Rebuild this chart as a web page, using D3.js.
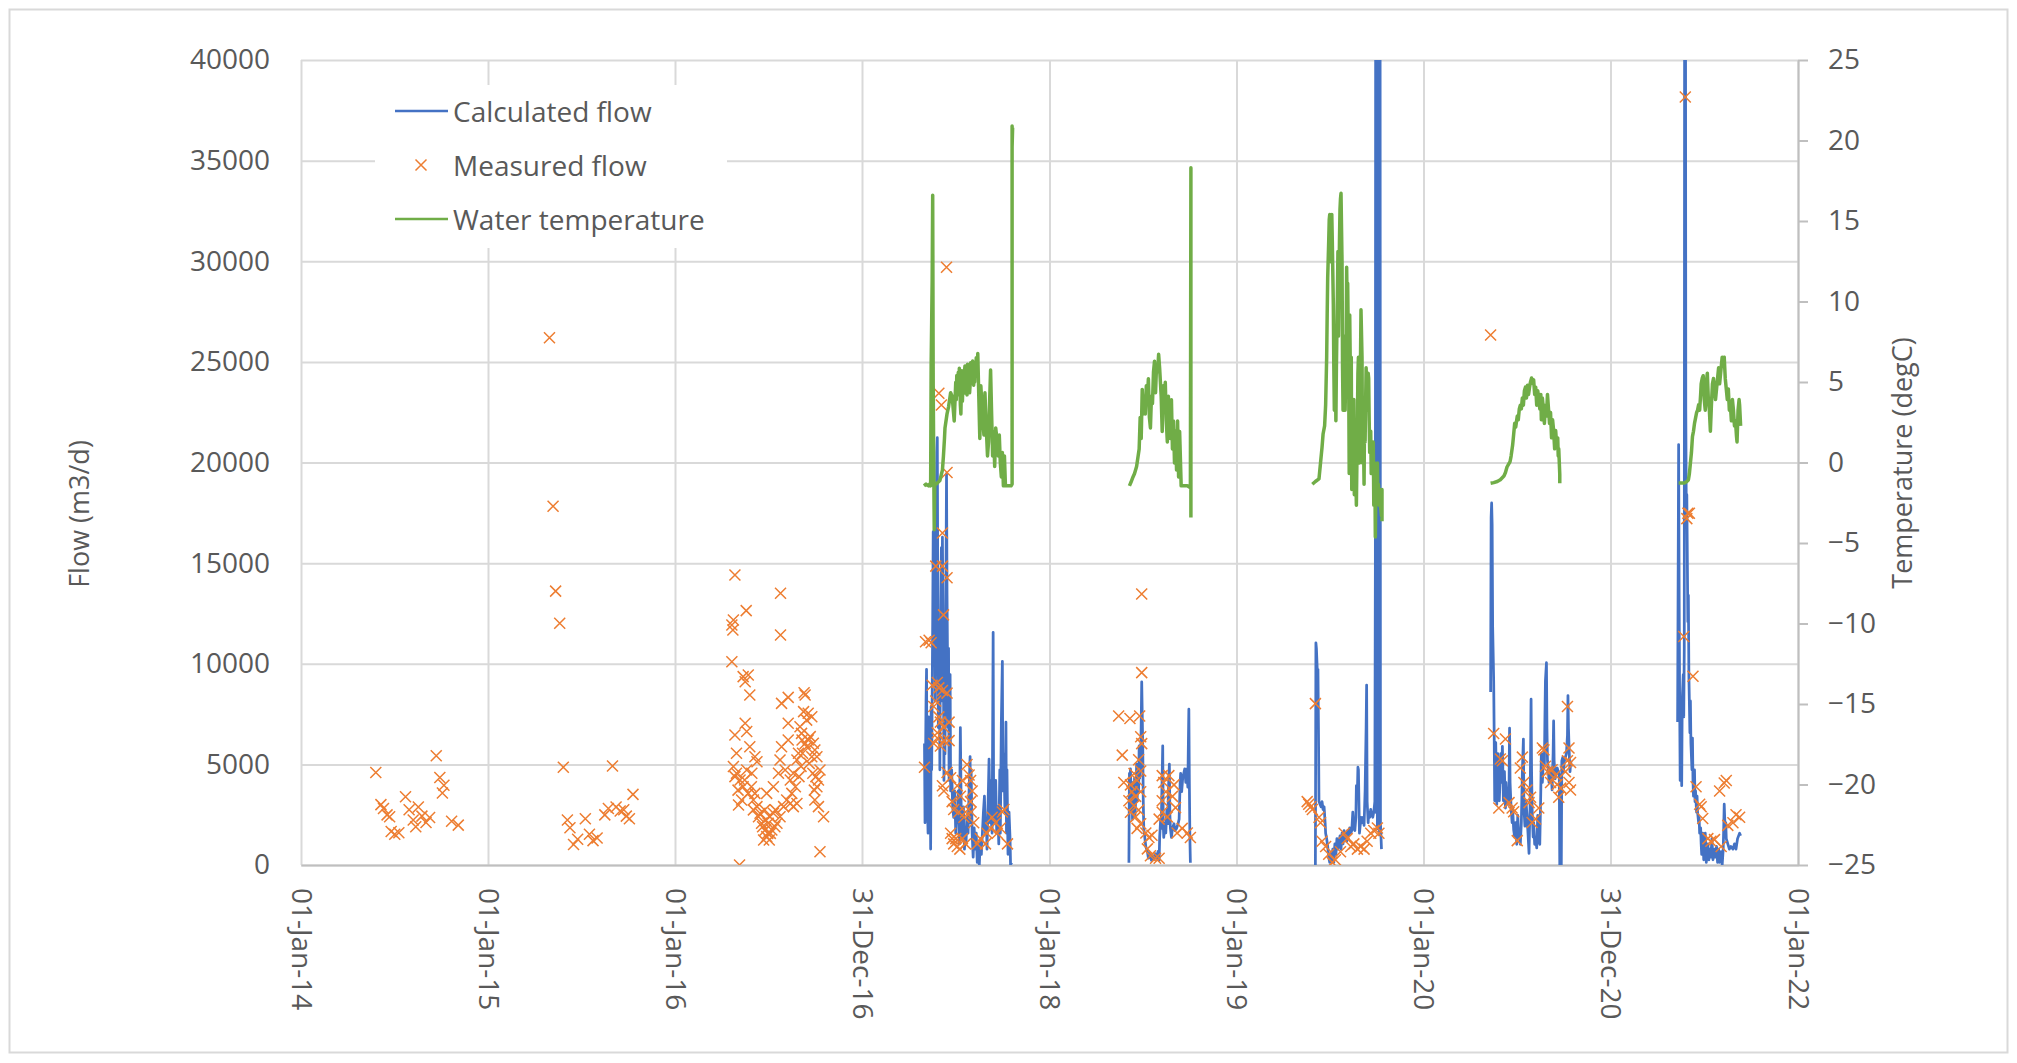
<!DOCTYPE html>
<html><head><meta charset="utf-8">
<script src="https://cdn.jsdelivr.net/npm/d3@7"></script>
<style>
html,body{margin:0;padding:0;background:#fff;}
svg{display:block;font-family:"Open Sans",sans-serif;}
</style></head><body>
<svg id="chart" width="2017" height="1063"></svg>
<script>
// ---------- axis definitions ----------
const xTickDates = ["2014-01-01","2015-01-01","2016-01-01","2016-12-31","2018-01-01","2019-01-01","2020-01-01","2020-12-31","2022-01-01"];
const xTickLabels = ["01-Jan-14","01-Jan-15","01-Jan-16","31-Dec-16","01-Jan-18","01-Jan-19","01-Jan-20","31-Dec-20","01-Jan-22"];
const flowTicks = [0,5000,10000,15000,20000,25000,30000,35000,40000];
const tempTicks = [-25,-20,-15,-10,-5,0,5,10,15,20,25];
const seriesNames = ["Calculated flow","Measured flow","Water temperature"];
const flowTitle = "Flow (m3/d)";
const tempTitle = "Temperature (degC)";

// ---------- data: [date "YYYY-dayOfYear", value] ----------
const measuredFlow2014 = [["2014-147",4600],["2014-157",3000],["2014-162",2810],["2014-169",2490],["2014-174",2400],["2014-177",1660],["2014-184",1530],["2014-192",1600],["2014-205",3390],["2014-212",2750],["2014-220",2240],["2014-225",1900],["2014-230",2880],["2014-237",2430],["2014-245",2110],["2014-252",2360],["2014-265",5430],["2014-272",4350],["2014-277",3580],["2014-280",3960],["2014-295",2170],["2014-308",1980]];
const measuredFlow2015 = [["2015-121",26200],["2015-128",17830],["2015-133",13610],["2015-141",12010],["2015-148",4860],["2015-156",2240],["2015-161",1850],["2015-168",1020],["2015-176",1280],["2015-191",2300],["2015-199",1530],["2015-206",1210],["2015-214",1340],["2015-229",2490],["2015-236",2810],["2015-244",4920],["2015-251",2880],["2015-259",2680],["2015-266",2750],["2015-271",2430],["2015-277",2300],["2015-284",3510]];
const measuredFlow2016 = [["2016-118",14410],["2016-207",13500],["2016-140",12640],["2016-115",12170],["2016-112",11930],["2016-114",11680],["2016-207",11430],["2016-112",10100],["2016-144",9440],["2016-138",9110],["2016-134",9360],["2016-147",8450],["2016-222",8330],["2016-209",8030],["2016-253",8560],["2016-255",8450],["2016-252",7620],["2016-261",7540],["2016-258",7200],["2016-268",7370],["2016-138",7040],["2016-141",6630],["2016-118",6460],["2016-222",7040],["2016-248",6540],["2016-265",6380],["2016-271",6050],["2016-274",5710],["2016-121",5550],["2016-147",5880],["2016-157",5380],["2016-161",5130],["2016-209",5880],["2016-222",6210],["2016-206",5220],["2016-242",5550],["2016-239",5220],["2016-278",5380],["2016-284",4720],["2016-281",4220],["2016-278",3890],["2016-115",4890],["2016-121",4560],["2016-128",4220],["2016-134",3890],["2016-125",2980],["2016-144",3560],["2016-154",3230],["2016-161",2900],["2016-167",2570],["2016-170",2070],["2016-177",1740],["2016-180",1410],["2016-174",1240],["2016-190",1740],["2016-200",2070],["2016-206",2400],["2016-213",2900],["2016-219",3230],["2016-226",3060],["2016-232",2900],["2016-239",3060],["2016-226",4220],["2016-232",4560],["2016-274",3230],["2016-281",2900],["2016-291",2400],["2016-284",660],["2016-127",0],["2016-187",1570],["2016-196",1900],["2016-164",2400],["2016-157",3560],["2016-151",4560],["2016-141",4720],["2016-180",3560],["2016-193",3890],["2016-203",4560],["2016-216",4720],["2016-258",5880],["2016-268",5380],["2016-245",6870],["2016-261",6210],["2016-172",1900],["2016-178",2240],["2016-183",2070],["2016-186",2400],["2016-176",2740],["2016-193",2570],["2016-197",2740],["2016-185",1240],["2016-182",1570],["2016-118",4390],["2016-124",3720],["2016-131",3230],["2016-137",4220],["2016-150",3890],["2016-154",2740],["2016-229",3560],["2016-236",3890],["2016-243",4390],["2016-247",4900],["2016-250",5550],["2016-255",6040],["2016-249",6210],["2016-263",5050],["2016-270",4560],["2016-276",4390],["2016-273",3720]];
const measuredFlow2017 = [["2017-165",29700],["2017-150",23440],["2017-155",22860],["2017-166",19500],["2017-157",16500],["2017-144",14850],["2017-157",14850],["2017-166",14270],["2017-159",12430],["2017-124",11090],["2017-131",11170],["2017-135",11040],["2017-137",8935],["2017-147",9070],["2017-150",8800],["2017-157",8670],["2017-144",8150],["2017-166",8540],["2017-140",7880],["2017-150",7360],["2017-153",7100],["2017-160",6830],["2017-170",7100],["2017-147",6570],["2017-140",6040],["2017-147",6310],["2017-153",5910],["2017-160",6180],["2017-170",6180],["2017-122",4860],["2017-166",4600],["2017-173",4340],["2017-157",3940],["2017-160",3680],["2017-176",3150],["2017-179",2760],["2017-186",3940],["2017-192",3420],["2017-189",2630],["2017-196",4200],["2017-199",2370],["2017-202",2630],["2017-205",4990],["2017-209",4470],["2017-212",4200],["2017-215",3680],["2017-212",3150],["2017-213",2630],["2017-218",2100],["2017-173",1580],["2017-176",1310],["2017-179",1050],["2017-183",1310],["2017-186",920],["2017-191",790],["2017-196",1310],["2017-202",1050],["2017-225",1050],["2017-231",1310],["2017-241",1050],["2017-244",1580],["2017-251",1840],["2017-254",2370],["2017-261",2100],["2017-264",1580],["2017-270",1840],["2017-274",2630],["2017-277",2760],["2017-284",1050]];
const measuredFlow2018 = [["2018-181",13470],["2018-181",9560],["2018-136",7400],["2018-158",7280],["2018-177",7400],["2018-179",6370],["2018-181",6030],["2018-143",5460],["2018-175",5230],["2018-166",4550],["2018-179",4670],["2018-146",4100],["2018-159",3980],["2018-172",4210],["2018-162",3640],["2018-169",3410],["2018-179",3640],["2018-156",3190],["2018-166",2960],["2018-175",2730],["2018-159",2620],["2018-169",2390],["2018-179",2050],["2018-172",1820],["2018-189",1590],["2018-195",1370],["2018-201",1480],["2018-192",800],["2018-198",455],["2018-208",340],["2018-215",340],["2018-221",4440],["2018-234",4440],["2018-224",4100],["2018-244",3980],["2018-241",3410],["2018-247",2850],["2018-228",3640],["2018-221",2620],["2018-231",2390],["2018-221",3190],["2018-250",1590],["2018-260",1820],["2018-270",1590],["2018-276",1370],["2018-215",2280]];
const measuredFlow2019 = [["2019-155",8020],["2019-139",3150],["2019-142",3020],["2019-146",2890],["2019-149",2760],["2019-162",2370],["2019-165",2100],["2019-168",1180],["2019-175",920],["2019-181",530],["2019-188",130],["2019-194",260],["2019-204",660],["2019-211",1580],["2019-217",1310],["2019-224",920],["2019-230",1050],["2019-237",790],["2019-243",920],["2019-250",790],["2019-256",1180],["2019-263",1580],["2019-269",1710],["2019-276",1840],["2019-279",1580]];
const measuredFlow2020 = [["2020-132",26340],["2020-138",6530],["2020-161",6260],["2020-151",5270],["2020-155",5180],["2020-148",2830],["2020-168",3100],["2020-174",2830],["2020-177",2650],["2020-184",1210],["2020-190",4820],["2020-194",5360],["2020-197",4100],["2020-203",3730],["2020-210",3370],["2020-207",3100],["2020-213",2110],["2020-220",2290],["2020-226",2830],["2020-233",5810],["2020-236",5720],["2020-239",4910],["2020-243",4640],["2020-249",4100],["2020-252",4730],["2020-259",4460],["2020-262",4000],["2020-269",3820],["2020-265",3370],["2020-282",7880],["2020-285",5810],["2020-282",5180],["2020-288",5090],["2020-278",4640],["2020-285",4100],["2020-288",3730]];
const measuredFlow2021 = [["2021-146",38160],["2021-151",17480],["2021-154",17480],["2021-149",17210],["2021-143",11350],["2021-161",9380],["2021-167",3890],["2021-174",3020],["2021-177",2890],["2021-180",2310],["2021-190",1310],["2021-196",1180],["2021-203",1260],["2021-216",920],["2021-213",3680],["2021-222",4070],["2021-226",4200],["2021-229",1970],["2021-239",2100],["2021-245",2500],["2021-252",2370]];

const calcFlow2017 = [["2017-122",6040],["2017-123",2100],["2017-125",8150],["2017-126",9720],["2017-127",3680],["2017-129",1580],["2017-130",7360],["2017-131",3150],["2017-133",5520],["2017-134",790],["2017-135",7880],["2017-136",4730],["2017-138",12090],["2017-139",16560],["2017-140",10770],["2017-142",17340],["2017-143",8150],["2017-144",14720],["2017-146",20500],["2017-147",21230],["2017-148",13400],["2017-149",6830],["2017-151",12090],["2017-152",4730],["2017-153",10770],["2017-155",15770],["2017-156",8150],["2017-157",16290],["2017-159",9460],["2017-160",4200],["2017-161",12090],["2017-162",5520],["2017-164",14720],["2017-165",19450],["2017-166",13400],["2017-168",6830],["2017-169",10770],["2017-170",4200],["2017-172",9460],["2017-173",3680],["2017-175",4730],["2017-177",2890],["2017-179",2370],["2017-181",3680],["2017-183",1580],["2017-185",2890],["2017-187",2100],["2017-188",3680],["2017-190",1050],["2017-192",6830],["2017-194",1840],["2017-196",1310],["2017-198",2890],["2017-200",790],["2017-202",1840],["2017-203",1050],["2017-205",2370],["2017-207",1580],["2017-209",3680],["2017-211",5390],["2017-212",2100],["2017-213",4730],["2017-215",1580],["2017-217",390],["2017-219",1840],["2017-221",790],["2017-223",1580],["2017-225",130],["2017-227",1050],["2017-229",0],["2017-231",1310],["2017-233",530],["2017-235",1580],["2017-237",2630],["2017-239",3420],["2017-241",1580],["2017-243",2100],["2017-244",790],["2017-246",2890],["2017-248",5260],["2017-250",2100],["2017-251",4200],["2017-252",2370],["2017-254",1580],["2017-256",11560],["2017-257",2890],["2017-259",2100],["2017-261",4200],["2017-263",1580],["2017-265",2890],["2017-267",1050],["2017-269",4730],["2017-270",1580],["2017-272",7100],["2017-274",10120],["2017-275",3680],["2017-277",5520],["2017-279",2630],["2017-281",7100],["2017-282",1580],["2017-283",4730],["2017-285",530],["2017-287",2630],["2017-289",1310],["2017-290",0],["2017-292",130]];
const calcFlow2018 = [["2018-156",110],["2018-157",4550],["2018-158",2960],["2018-159",4780],["2018-161",2730],["2018-162",4100],["2018-163",2280],["2018-164",3640],["2018-166",2960],["2018-167",4320],["2018-168",2500],["2018-170",3640],["2018-171",5010],["2018-172",3190],["2018-174",4550],["2018-175",3640],["2018-176",5920],["2018-177",4320],["2018-179",5230],["2018-180",7060],["2018-181",9100],["2018-183",5920],["2018-184",3190],["2018-185",1820],["2018-187",1370],["2018-189",910],["2018-192",680],["2018-194",340],["2018-197",570],["2018-200",230],["2018-202",460],["2018-205",270],["2018-207",570],["2018-210",340],["2018-213",680],["2018-215",230],["2018-216",1370],["2018-218",2280],["2018-219",1820],["2018-220",3190],["2018-222",5920],["2018-223",2050],["2018-224",1370],["2018-226",2050],["2018-228",1590],["2018-230",2730],["2018-232",2050],["2018-233",3640],["2018-235",5010],["2018-236",2500],["2018-237",1820],["2018-239",1370],["2018-241",1820],["2018-244",2050],["2018-246",1710],["2018-249",1820],["2018-252",2050],["2018-254",2280],["2018-256",4100],["2018-257",4550],["2018-259",3640],["2018-261",4320],["2018-263",4550],["2018-265",4780],["2018-267",4100],["2018-269",4780],["2018-271",3870],["2018-272",5920],["2018-273",7740],["2018-274",4100],["2018-275",1370],["2018-276",110]];
const calcFlow2019 = [["2019-155",0],["2019-156",11040],["2019-157",10770],["2019-159",9460],["2019-160",9720],["2019-161",6830],["2019-162",3150],["2019-164",3020],["2019-166",2890],["2019-168",3150],["2019-170",2760],["2019-172",2890],["2019-174",2100],["2019-175",1580],["2019-177",1310],["2019-179",920],["2019-181",390],["2019-183",130],["2019-185",530],["2019-187",260],["2019-189",790],["2019-191",130],["2019-193",1050],["2019-195",530],["2019-197",1310],["2019-199",790],["2019-201",1050],["2019-203",1450],["2019-205",790],["2019-207",1580],["2019-209",1050],["2019-211",1710],["2019-213",1310],["2019-215",1580],["2019-216",1180],["2019-218",1710],["2019-220",1450],["2019-222",1840],["2019-224",1580],["2019-226",1710],["2019-228",2630],["2019-230",1840],["2019-232",1710],["2019-234",2370],["2019-235",3940],["2019-237",3680],["2019-238",4860],["2019-239",4730],["2019-241",1580],["2019-242",1840],["2019-244",2370],["2019-246",2100],["2019-248",2370],["2019-250",1970],["2019-252",3680],["2019-254",6830],["2019-255",8940],["2019-256",3150],["2019-258",2100],["2019-259",2630],["2019-261",2370],["2019-263",2760],["2019-265",2500],["2019-267",2370],["2019-269",2630],["2019-271",3150],["2019-272",14700],["2019-273",60000],["2019-274",2600],["2019-275",60000],["2019-276",1800],["2019-277",60000],["2019-278",2400],["2019-279",60000],["2019-280",1500],["2019-281",60000],["2019-282",2100],["2019-284",790]];
const calcFlow2020 = [["2020-132",8600],["2020-133",17260],["2020-134",17990],["2020-135",16900],["2020-136",11850],["2020-138",9150],["2020-139",6440],["2020-140",3190],["2020-142",6080],["2020-143",4640],["2020-144",3010],["2020-146",5540],["2020-147",4100],["2020-148",5000],["2020-149",3190],["2020-151",4640],["2020-152",5540],["2020-153",4100],["2020-155",5900],["2020-156",4640],["2020-157",3190],["2020-159",4640],["2020-160",3730],["2020-161",2830],["2020-162",4100],["2020-164",3190],["2020-165",3550],["2020-166",3010],["2020-168",3910],["2020-169",6800],["2020-170",4100],["2020-172",2830],["2020-173",2470],["2020-174",2110],["2020-175",2830],["2020-177",1750],["2020-179",1390],["2020-181",2110],["2020-183",1030],["2020-185",2470],["2020-187",1390],["2020-188",1750],["2020-190",1030],["2020-192",2110],["2020-194",4640],["2020-196",6260],["2020-197",2830],["2020-199",1930],["2020-201",3190],["2020-203",2470],["2020-205",1570],["2020-207",580],["2020-208",1930],["2020-209",2830],["2020-211",8240],["2020-212",4640],["2020-213",2830],["2020-215",1390],["2020-216",2110],["2020-218",1030],["2020-220",1390],["2020-222",850],["2020-224",2470],["2020-226",1390],["2020-228",1030],["2020-230",3730],["2020-231",5540],["2020-233",4100],["2020-234",4640],["2020-235",5540],["2020-237",5000],["2020-238",7340],["2020-239",9150],["2020-241",10050],["2020-242",6800],["2020-243",5180],["2020-245",4640],["2020-246",4100],["2020-248",4640],["2020-250",4820],["2020-252",3730],["2020-254",5540],["2020-255",7160],["2020-256",5180],["2020-258",4280],["2020-260",4640],["2020-262",4820],["2020-264",4640],["2020-266",4460],["2020-267",0],["2020-269",0],["2020-270",0],["2020-271",5180],["2020-273",5360],["2020-274",4640],["2020-276",5180],["2020-278",5360],["2020-280",5540],["2020-282",6440],["2020-283",8420],["2020-284",6800],["2020-286",5180],["2020-287",4640],["2020-288",5000],["2020-289",5180]];
const calcFlow2021 = [["2021-131",7100],["2021-133",20890],["2021-134",13400],["2021-135",8150],["2021-136",4200],["2021-138",6040],["2021-139",3940],["2021-140",8150],["2021-142",9460],["2021-143",7360],["2021-144",10770],["2021-145",60000],["2021-146",60000],["2021-147",22600],["2021-148",17340],["2021-149",18400],["2021-151",12090],["2021-152",13400],["2021-153",9460],["2021-155",6570],["2021-156",8150],["2021-157",6040],["2021-159",4730],["2021-160",6310],["2021-161",4200],["2021-162",3420],["2021-164",4730],["2021-165",3150],["2021-166",3680],["2021-168",2630],["2021-169",3420],["2021-170",2630],["2021-172",2100],["2021-173",2370],["2021-174",1580],["2021-176",1840],["2021-177",1050],["2021-178",530],["2021-180",1580],["2021-182",260],["2021-183",790],["2021-185",1580],["2021-187",130],["2021-190",1050],["2021-192",260],["2021-194",790],["2021-196",390],["2021-198",1310],["2021-200",260],["2021-203",790],["2021-205",390],["2021-207",920],["2021-209",130],["2021-211",790],["2021-213",130],["2021-216",660],["2021-218",0],["2021-220",790],["2021-221",1840],["2021-222",3020],["2021-224",1580],["2021-225",2100],["2021-226",1310],["2021-229",1050],["2021-232",790],["2021-235",920],["2021-239",790],["2021-242",1050],["2021-245",790],["2021-248",1310],["2021-252",1580],["2021-254",1450]];

const waterTemp2017 = [["2017-121",-1.45],["2017-125",-1.34],["2017-130",-1.45],["2017-132",-1.34],["2017-134",-1.45],["2017-135",6.07],["2017-137",11.3],["2017-138",16.6],["2017-139",4.76],["2017-141",-4.17],["2017-142",-1.34],["2017-145",-1.34],["2017-152",-1.12],["2017-157",-0.47],["2017-159",0.41],["2017-161",1.49],["2017-162",2.15],["2017-166",3.02],["2017-169",3.46],["2017-173",4.33],["2017-176",4.11],["2017-180",2.58],["2017-183",4.98],["2017-184",3.9],["2017-185",5.4],["2017-186",4.2],["2017-187",5.2],["2017-188",5.6],["2017-189",4.4],["2017-190",5.85],["2017-191",5.1],["2017-192",3.6],["2017-193",3.02],["2017-194",4.5],["2017-195",5.7],["2017-196",3.8],["2017-197",4.98],["2017-198",5.5],["2017-199",4.3],["2017-200",5.63],["2017-201",6.0],["2017-202",4.6],["2017-203",5.8],["2017-204",4.54],["2017-205",4.2],["2017-206",6.1],["2017-207",5.85],["2017-208",4.7],["2017-209",5.9],["2017-210",4.33],["2017-211",4.8],["2017-212",6.2],["2017-213",4.9],["2017-214",5.96],["2017-215",5.1],["2017-216",6.3],["2017-217",5.2],["2017-218",4.8],["2017-219",6.0],["2017-220",5.0],["2017-221",6.07],["2017-222",5.4],["2017-223",6.5],["2017-224",6.29],["2017-225",5.3],["2017-226",6.77],["2017-228",4.11],["2017-230",1.49],["2017-232",4.76],["2017-235",3.02],["2017-238",1.71],["2017-240",4.33],["2017-242",2.58],["2017-245",0.41],["2017-247",1.28],["2017-249",3.67],["2017-251",5.74],["2017-253",3.02],["2017-255",0.41],["2017-257",1.93],["2017-259",-0.25],["2017-261",2.15],["2017-264",1.28],["2017-266",0.41],["2017-268",1.71],["2017-270",-0.03],["2017-272",-0.9],["2017-274",0.62],["2017-276",-1.45],["2017-278",0.41],["2017-280",-1.45],["2017-284",-1.45],["2017-291",-1.45],["2017-293",-1.34],["2017-293",20.9],["2017-293",19.6],["2017-294",20.8]];
const waterTemp2018 = [["2018-157",-1.45],["2018-160",-1.23],["2018-164",-0.9],["2018-167",-0.68],["2018-171",-0.25],["2018-174",0.41],["2018-176",0.84],["2018-178",2.8],["2018-180",1.49],["2018-182",4.54],["2018-184",3.02],["2018-186",4.11],["2018-188",3.02],["2018-190",4.76],["2018-192",3.89],["2018-194",5.2],["2018-196",2.8],["2018-198",2.15],["2018-200",4.11],["2018-202",3.67],["2018-204",5.63],["2018-206",6.29],["2018-208",4.33],["2018-210",6.07],["2018-212",5.63],["2018-214",6.72],["2018-216",5.85],["2018-219",4.11],["2018-221",1.93],["2018-223",4.76],["2018-225",3.46],["2018-227",4.98],["2018-229",2.58],["2018-231",1.28],["2018-233",4.11],["2018-235",2.58],["2018-237",1.49],["2018-239",3.89],["2018-241",0.84],["2018-243",2.58],["2018-245",-0.03],["2018-247",1.93],["2018-249",-0.47],["2018-251",2.58],["2018-253",-0.9],["2018-255",1.93],["2018-258",-1.45],["2018-263",-1.45],["2018-270",-1.45],["2018-276",-1.56],["2018-277",18.3],["2018-277",14.6],["2018-277",4.76],["2018-277",-3.41]];
const waterTemp2019 = [["2019-149",-1.35],["2019-155",-1.18],["2019-162",-1.02],["2019-165",-0.03],["2019-168",0.95],["2019-170",1.77],["2019-173",2.27],["2019-175",3.58],["2019-177",6.54],["2019-178",9.16],["2019-179",11.46],["2019-181",13.76],["2019-182",15.08],["2019-183",15.41],["2019-185",14.42],["2019-186",12.45],["2019-187",15.41],["2019-188",13.76],["2019-190",9.82],["2019-191",5.88],["2019-192",3.25],["2019-194",7.19],["2019-195",2.59],["2019-196",5.88],["2019-198",10.48],["2019-199",13.11],["2019-200",7.85],["2019-202",13.76],["2019-203",15.73],["2019-204",16.39],["2019-205",16.72],["2019-207",12.45],["2019-208",5.88],["2019-209",3.25],["2019-211",7.85],["2019-212",5.88],["2019-213",3.25],["2019-215",7.19],["2019-216",12.12],["2019-217",9.82],["2019-218",11.14],["2019-220",5.22],["2019-221",-0.69],["2019-222",9.16],["2019-224",3.25],["2019-225",6.54],["2019-226",-1.68],["2019-228",3.91],["2019-229",1.28],["2019-230",3.91],["2019-231",-2.01],["2019-233",2.59],["2019-234",-0.69],["2019-235",-2.66],["2019-237",2.59],["2019-238",5.55],["2019-239",6.54],["2019-241",-0.03],["2019-242",3.25],["2019-243",6.21],["2019-244",9.49],["2019-246",6.54],["2019-247",-0.03],["2019-248",3.91],["2019-250",-1.35],["2019-251",3.25],["2019-252",1.28],["2019-254",5.88],["2019-255",4.89],["2019-256",3.25],["2019-258",5.55],["2019-259",5.22],["2019-260",2.59],["2019-261",0.62],["2019-263",1.94],["2019-264",-0.69],["2019-265",1.28],["2019-267",-0.03],["2019-268",1.28],["2019-269",-2.66],["2019-271",-0.03],["2019-272",-4.63],["2019-273",-1.68],["2019-274",-2.66],["2019-276",-0.03],["2019-277",-2.33],["2019-278",-1.35],["2019-280",-2.66],["2019-281",-1.68],["2019-282",-2.66],["2019-284",-3.32],["2019-285",-1.68],["2019-285",-3.65]];
const waterTemp2020 = [["2020-132",-1.29],["2020-138",-1.25],["2020-145",-1.18],["2020-151",-1.07],["2020-158",-0.84],["2020-161",-0.62],["2020-164",-0.28],["2020-168",-0.05],["2020-170",0.06],["2020-172",0.4],["2020-175",1.08],["2020-177",1.75],["2020-179",2.43],["2020-181",2.2],["2020-184",2.88],["2020-186",2.65],["2020-188",3.33],["2020-190",3.56],["2020-192",3.33],["2020-194",4.01],["2020-196",3.56],["2020-198",4.46],["2020-200",4.68],["2020-202",4.01],["2020-204",4.8],["2020-206",4.23],["2020-208",4.68],["2020-210",5.02],["2020-212",5.25],["2020-214",4.91],["2020-216",5.13],["2020-218",4.23],["2020-220",4.68],["2020-222",3.56],["2020-224",4.46],["2020-226",4.01],["2020-228",3.33],["2020-230",4.23],["2020-231",2.65],["2020-233",4.01],["2020-235",3.33],["2020-237",2.43],["2020-239",3.56],["2020-241",2.88],["2020-243",4.23],["2020-245",3.33],["2020-247",2.43],["2020-249",3.1],["2020-251",1.53],["2020-253",2.65],["2020-255",1.98],["2020-257",0.85],["2020-259",1.98],["2020-261",1.08],["2020-263",1.53],["2020-264",0.4],["2020-265",0.85],["2020-267",-0.73],["2020-267",-1.29]];
const waterTemp2021 = [["2021-133",-1.28],["2021-138",-1.28],["2021-144",-1.28],["2021-149",-1.18],["2021-152",-1.09],["2021-154",-0.69],["2021-156",-0.03],["2021-158",0.62],["2021-160",1.61],["2021-162",1.94],["2021-164",2.43],["2021-166",2.76],["2021-168",3.09],["2021-170",3.25],["2021-172",3.58],["2021-174",3.25],["2021-176",4.24],["2021-177",4.89],["2021-179",5.22],["2021-181",5.39],["2021-183",3.91],["2021-185",3.25],["2021-187",4.89],["2021-189",5.55],["2021-191",3.91],["2021-193",3.25],["2021-195",1.94],["2021-197",3.58],["2021-199",4.89],["2021-201",5.22],["2021-203",4.57],["2021-205",3.91],["2021-207",4.57],["2021-209",5.22],["2021-211",5.88],["2021-213",4.89],["2021-215",5.55],["2021-217",6.21],["2021-218",6.54],["2021-220",6.37],["2021-222",6.54],["2021-224",5.22],["2021-226",4.57],["2021-228",3.91],["2021-230",4.57],["2021-232",3.25],["2021-234",3.58],["2021-236",2.59],["2021-238",3.91],["2021-240",3.25],["2021-242",2.27],["2021-244",2.59],["2021-246",1.61],["2021-247",1.28],["2021-249",3.25],["2021-251",3.91],["2021-252",3.58],["2021-254",2.27]];

const calcFlowSegments = [calcFlow2017, calcFlow2018, calcFlow2019, calcFlow2020, calcFlow2021];
const measuredFlowAll = [].concat(measuredFlow2014, measuredFlow2015, measuredFlow2016, measuredFlow2017, measuredFlow2018, measuredFlow2019, measuredFlow2020, measuredFlow2021);
const waterTempSegments = [waterTemp2017, waterTemp2018, waterTemp2019, waterTemp2020, waterTemp2021];

// ---------- chart ----------
const colors = {calc:"#4472C4", meas:"#ED7D31", temp:"#70AD47", grid:"#d9d9d9", axis:"#bfbfbf", text:"#595959"};
const parseDay = d3.timeParse("%Y-%j");
const parseDate = d3.timeParse("%Y-%m-%d");
const plot = {left:301, right:1798, top:60, bottom:865};

const svg = d3.select("#chart");
svg.append("rect").attr("x",9.5).attr("y",9.5).attr("width",1998).attr("height",1043)
  .attr("fill","#fff").attr("stroke",colors.grid).attr("stroke-width",2);

const x = d3.scaleTime().domain([parseDate("2014-01-01"), parseDate("2022-01-01")]).range([plot.left, plot.right]);
const yFlow = d3.scaleLinear().domain([0,40000]).range([plot.bottom, plot.top]);
const yTemp = d3.scaleLinear().domain([-25,25]).range([plot.bottom, plot.top]);
const tickDates = xTickDates.map(parseDate);

// gridlines
const gGrid = svg.append("g");
gGrid.append("g").attr("transform",`translate(${plot.left},0)`)
  .call(d3.axisLeft(yFlow).tickValues(flowTicks).tickSize(-(plot.right-plot.left)).tickFormat(""))
  .call(g=>g.select(".domain").remove())
  .call(g=>g.selectAll("line").attr("stroke",colors.grid).attr("stroke-width",2));
gGrid.append("g").attr("transform",`translate(0,${plot.bottom})`)
  .call(d3.axisBottom(x).tickValues(tickDates).tickSize(-(plot.bottom-plot.top)).tickFormat(""))
  .call(g=>g.select(".domain").remove())
  .call(g=>g.selectAll("line").attr("stroke",colors.grid).attr("stroke-width",2));

// left axis labels
svg.append("g").attr("transform",`translate(${plot.left},0)`)
  .call(d3.axisLeft(yFlow).tickValues(flowTicks).tickSize(0).tickPadding(31).tickFormat(d3.format("d")))
  .call(g=>g.select(".domain").remove())
  .call(g=>g.selectAll("text").attr("fill",colors.text).attr("font-size",28).attr("font-family","Open Sans"));

// bottom axis
svg.append("g").attr("transform",`translate(0,${plot.bottom})`)
  .call(d3.axisBottom(x).tickValues(tickDates).tickSize(0).tickFormat((d,i)=>xTickLabels[i]))
  .call(g=>g.select(".domain").attr("stroke",colors.axis).attr("stroke-width",2))
  .call(g=>g.selectAll("text").attr("fill",colors.text).attr("font-size",28).attr("font-family","Open Sans")
     .attr("transform","rotate(90)").attr("x",23).attr("y",0).attr("dy","0.35em").attr("text-anchor","start"));

// right axis
svg.append("g").attr("transform",`translate(${plot.right},0)`)
  .call(d3.axisRight(yTemp).tickValues(tempTicks).tickSize(10).tickSizeOuter(0).tickPadding(20))
  .call(g=>g.select(".domain").attr("stroke",colors.axis).attr("stroke-width",2))
  .call(g=>g.selectAll("line").attr("stroke",colors.axis).attr("stroke-width",2))
  .call(g=>g.selectAll("text").attr("fill",colors.text).attr("font-size",28).attr("font-family","Open Sans"));

// axis titles
svg.append("text").attr("transform","translate(78,514) rotate(-90)").attr("text-anchor","middle")
  .attr("dominant-baseline","central").attr("fill",colors.text).attr("font-size",27).text(flowTitle);
svg.append("text").attr("transform","translate(1901,463) rotate(-90)").attr("text-anchor","middle")
  .attr("dominant-baseline","central").attr("fill",colors.text).attr("font-size",27).text(tempTitle);

// clip
svg.append("clipPath").attr("id","plotClip").append("rect")
  .attr("x",plot.left).attr("y",plot.top).attr("width",plot.right-plot.left).attr("height",plot.bottom-plot.top);
const gData = svg.append("g").attr("clip-path","url(#plotClip)");

const flowLine = d3.line().x(d=>x(parseDay(d[0]))).y(d=>yFlow(d[1]));
const tempLine = d3.line().x(d=>x(parseDay(d[0]))).y(d=>yTemp(d[1]));

gData.selectAll("path.calc").data(calcFlowSegments).join("path").attr("class","calc")
  .attr("d",flowLine).attr("fill","none").attr("stroke",colors.calc).attr("stroke-width",2.75).attr("stroke-linejoin","round");

const xMark = "M-5.5,-5.5L5.5,5.5M-5.5,5.5L5.5,-5.5";
gData.selectAll("path.meas").data(measuredFlowAll).join("path").attr("class","meas")
  .attr("transform",d=>`translate(${x(parseDay(d[0]))},${yFlow(d[1])})`)
  .attr("d",xMark).attr("fill","none").attr("stroke",colors.meas).attr("stroke-width",1.5);

gData.selectAll("path.temp").data(waterTempSegments).join("path").attr("class","temp")
  .attr("d",tempLine).attr("fill","none").attr("stroke",colors.temp).attr("stroke-width",3.5).attr("stroke-linejoin","round");

// legend
const lg = svg.append("g");
lg.append("rect").attr("x",375).attr("y",85).attr("width",352).attr("height",163).attr("fill","#fff");
const legendRows = [{y:111, type:"line", color:colors.calc},{y:165, type:"mark", color:colors.meas},{y:219, type:"line", color:colors.temp}];
legendRows.forEach((r,i)=>{
  if(r.type==="line"){
    lg.append("line").attr("x1",395).attr("x2",448).attr("y1",r.y).attr("y2",r.y).attr("stroke",r.color).attr("stroke-width",2.5);
  } else {
    lg.append("path").attr("d",xMark).attr("transform",`translate(421,${r.y})`).attr("fill","none").attr("stroke",r.color).attr("stroke-width",1.5);
  }
  lg.append("text").attr("x",453).attr("y",r.y).attr("dominant-baseline","central").attr("fill",colors.text)
    .attr("font-size",28).text(seriesNames[i]);
});
</script>
</body></html>
